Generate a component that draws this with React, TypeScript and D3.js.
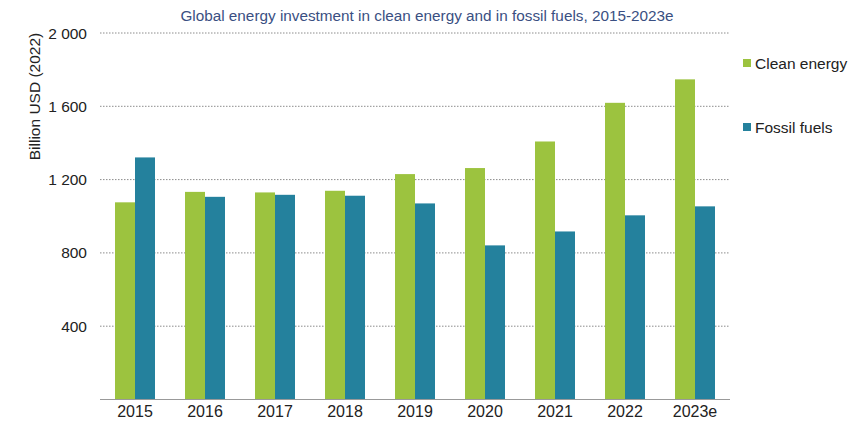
import { useMemo } from "react";
import * as d3 from "d3";

const years = ["2015", "2016", "2017", "2018", "2019", "2020", "2021", "2022", "2023e"];
const cleanEnergy = [1076, 1133, 1130, 1139, 1230, 1263, 1408, 1619, 1747];
const fossilFuels = [1321, 1106, 1117, 1112, 1070, 841, 917, 1005, 1054];
const yTicks = [400, 800, 1200, 1600, 2000];
const seriesNames = ["Clean energy", "Fossil fuels"];
const seriesColors = ["#9cc33f", "#24819d"];

const W = 858;
const H = 432;
const margin = { left: 100, right: 128, top: 33, bottom: 32.5 };
const font = "'Liberation Sans', Arial, sans-serif";

const fmt = (v: number) => d3.format(",")(v).replace(/,/g, " ");

export default function App() {
  const x = useMemo(
    () =>
      d3
        .scaleBand<string>()
        .domain(years)
        .range([margin.left, W - margin.right])
        .paddingInner(3 / 7)
        .paddingOuter(1.5 / 7),
    []
  );
  const y = useMemo(
    () => d3.scaleLinear().domain([0, 2000]).range([H - margin.bottom, margin.top]),
    []
  );
  const half = x.bandwidth() / 2;
  const series = [cleanEnergy, fossilFuels];

  return (
    <svg
      width={W}
      height={H}
      style={{ position: "absolute", left: 0, top: 0, background: "#fff" }}
      fontFamily={font}
    >
      <text x={427} y={21} textAnchor="middle" fontSize={15.3} fill="#3a4f82">
        Global energy investment in clean energy and in fossil fuels, 2015-2023e
      </text>

      {/* grid */}
      {yTicks.map((t) => (
        <g key={t}>
          <line
            x1={margin.left}
            x2={W - margin.right}
            y1={y(t)}
            y2={y(t)}
            stroke="#8c8c8c"
            strokeWidth={1}
            strokeDasharray="1.5 1.5"
          />
          <text x={87} y={y(t)} dy="0.36em" textAnchor="end" fontSize={15.5} fill="#222">
            {fmt(t)}
          </text>
        </g>
      ))}

      {/* bars */}
      {years.map((yr, i) => (
        <g key={yr}>
          {series.map((s, j) => (
            <rect
              key={j}
              x={(x(yr) as number) + j * half}
              y={y(s[i])}
              width={half}
              height={y(0) - y(s[i])}
              fill={seriesColors[j]}
            />
          ))}
          <text
            x={(x(yr) as number) + half}
            y={y(0) + 17.5}
            textAnchor="middle"
            fontSize={16}
            fill="#222"
          >
            {yr}
          </text>
        </g>
      ))}

      <line
        x1={margin.left}
        x2={W - margin.right}
        y1={y(0)}
        y2={y(0)}
        stroke="#999"
        strokeWidth={1}
      />

      <text
        transform={`translate(40, 96.5) rotate(-90)`}
        textAnchor="middle"
        fontSize={15.5}
        fill="#222"
      >
        Billion USD (2022)
      </text>

      {/* legend */}
      {seriesNames.map((n, j) => (
        <g key={n} transform={`translate(743, ${63 + j * 64})`}>
          <rect x={0} y={-4} width={8} height={8} fill={seriesColors[j]} />
          <text x={12} y={0} dy="0.36em" fontSize={15.5} fill="#222">
            {n}
          </text>
        </g>
      ))}
    </svg>
  );
}
